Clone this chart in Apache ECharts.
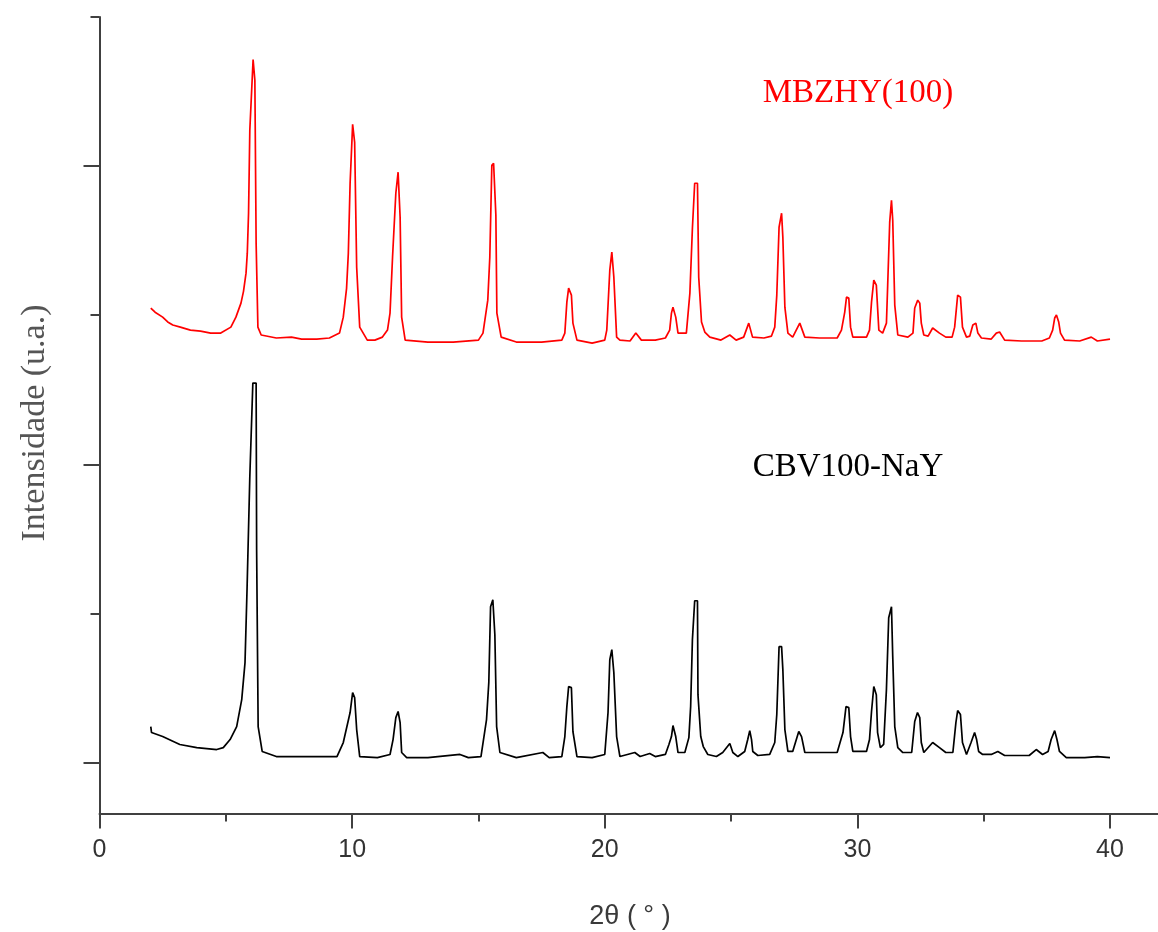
<!DOCTYPE html>
<html>
<head>
<meta charset="utf-8">
<script src="https://cdn.jsdelivr.net/npm/echarts@6/dist/echarts.min.js"></script>
<style>
  html, body { margin: 0; padding: 0; background: #ffffff; }
  #chart { width: 1158px; height: 932px; }
</style>
</head>
<body>
<div id="chart"></div>
<script>
// XRD patterns: 2θ (degrees) and intensity (arbitrary units, upper pattern shifted up)
const mbzhyTheta = [2.03,2.2,2.5,2.7,2.9,3.2,3.6,4.0,4.4,4.8,5.2,5.4,5.6,5.7,5.8,5.85,5.9,5.95,6.08,6.15,6.2,6.27,6.4,7.0,7.6,8.0,8.6,9.1,9.5,9.65,9.78,9.85,9.92,10.02,10.1,10.18,10.3,10.6,10.9,11.2,11.4,11.5,11.6,11.73,11.82,11.9,11.96,12.1,13.0,14.0,15.0,15.18,15.37,15.45,15.53,15.6,15.69,15.73,15.9,16.5,17.5,18.3,18.42,18.5,18.57,18.68,18.74,18.9,19.5,20.0,20.08,20.2,20.28,20.36,20.47,20.6,21.0,21.23,21.45,22.0,22.4,22.57,22.64,22.7,22.81,22.9,23.23,23.37,23.47,23.56,23.67,23.72,23.83,23.96,24.16,24.6,24.95,25.2,25.5,25.7,25.85,26.3,26.6,26.73,26.81,26.9,27.0,27.05,27.13,27.25,27.44,27.72,27.92,28.5,29.2,29.37,29.5,29.57,29.66,29.73,29.82,30.36,30.48,30.56,30.65,30.75,30.85,31.0,31.15,31.2,31.28,31.35,31.4,31.48,31.6,32.0,32.2,32.27,32.39,32.47,32.53,32.63,32.8,32.98,33.25,33.5,33.75,33.85,33.97,34.08,34.16,34.32,34.45,34.57,34.69,34.77,34.91,35.3,35.5,35.63,35.83,36.5,37.3,37.6,37.73,37.81,37.88,37.97,38.04,38.2,38.8,39.26,39.5,40.0];
const mbzhyCounts = [3048,3020,2987,2955,2934,2920,2900,2893,2880,2880,2920,2987,3081,3160,3282,3416,3684,4240,4715,4575,3483,2920,2867,2847,2853,2840,2840,2847,2880,2987,3180,3416,3885,4280,4159,3322,2920,2833,2833,2853,2900,3014,3389,3818,3959,3657,2987,2833,2820,2820,2833,2880,3101,3389,4005,4019,3671,3014,2853,2820,2820,2833,2880,3088,3182,3135,2947,2833,2813,2833,2900,3302,3423,3255,2853,2833,2827,2880,2833,2833,2847,2900,3014,3054,2987,2880,2880,3148,3583,3885,3885,3255,2954,2887,2853,2833,2867,2833,2853,2947,2853,2847,2860,2920,3135,3590,3684,3523,3054,2880,2853,2947,2853,2847,2847,2900,3021,3121,3115,2920,2853,2853,2900,3088,3235,3202,2900,2880,2947,3202,3624,3771,3637,3068,2867,2853,2880,3048,3101,3081,2947,2867,2860,2914,2880,2853,2853,2920,3135,3121,2920,2853,2860,2934,2947,2880,2847,2840,2880,2887,2833,2827,2827,2847,2900,2981,3001,2954,2880,2833,2827,2853,2827,2840];

const nayTheta = [2.03,2.06,2.5,3.18,3.85,4.64,4.9,5.17,5.43,5.63,5.76,5.84,5.95,6.07,6.2,6.22,6.28,6.44,7.0,8.0,9.4,9.65,9.92,10.02,10.1,10.18,10.3,11.0,11.5,11.62,11.73,11.82,11.9,11.96,12.16,13.0,14.27,14.6,15.1,15.32,15.41,15.48,15.57,15.65,15.72,15.85,16.5,17.55,17.8,18.3,18.42,18.5,18.57,18.68,18.74,18.9,19.5,20.0,20.13,20.2,20.28,20.36,20.47,20.6,21.19,21.4,21.78,22.0,22.4,22.54,22.64,22.7,22.81,22.9,23.17,23.33,23.4,23.47,23.56,23.67,23.69,23.8,23.9,24.08,24.42,24.67,24.95,25.07,25.27,25.54,25.66,25.74,25.81,25.86,26.06,26.53,26.73,26.81,26.9,27.0,27.05,27.13,27.25,27.44,27.68,27.79,27.92,28.5,29.2,29.43,29.55,29.66,29.73,29.82,30.36,30.48,30.56,30.65,30.75,30.8,30.91,31.04,31.15,31.24,31.35,31.4,31.48,31.6,31.8,32.15,32.27,32.38,32.47,32.53,32.63,32.98,33.25,33.5,33.78,33.9,33.97,34.08,34.16,34.32,34.5,34.64,34.72,34.8,34.96,35.3,35.56,35.83,36.8,37.08,37.33,37.55,37.67,37.81,37.9,38.0,38.27,39.0,39.5,40.0];
const nayCounts = [241,201,174,121,100,87,100,154,241,422,670,1159,1916,2545,2545,1427,241,74,40,40,40,134,335,469,435,221,40,33,54,154,301,342,268,67,33,33,54,33,40,288,536,1045,1092,857,241,67,33,67,33,40,174,375,509,502,208,40,33,54,335,690,757,603,174,40,67,40,60,40,54,121,174,248,174,67,67,167,375,824,1085,1085,455,174,107,54,40,67,127,67,40,74,154,214,154,74,47,54,134,322,777,777,623,221,74,74,208,174,67,67,67,201,375,368,174,74,74,154,342,509,455,201,100,121,489,971,1045,710,241,100,67,67,275,335,301,134,67,134,100,67,67,268,348,322,134,54,134,201,154,74,54,54,74,47,47,87,54,74,154,214,154,74,33,33,40,33];

const seriesNames = ['MBZHY(100)', 'CBV100-NaY'];
const seriesColors = ['#ff0000', '#000000'];
const xMajorTicks = [0, 10, 20, 30, 40];
const xMinorTicks = [5, 15, 25, 35];
const yMajorTicks = [0, 2000, 4000];
const yMinorTicks = [1000, 3000, 5000];
const xTitle = '2θ ( ° )';
const yTitle = 'Intensidade (u.a.)';

const pairs = (xs, ys) => xs.map((x, i) => [x, ys[i]]);

const axisColor = '#404040';
const X_MIN = 0, X_MAX = 41.9, Y_MIN = -342, Y_MAX = 5000;

const chart = echarts.init(document.getElementById('chart'), null, { renderer: 'canvas' });

const baseX = {
  type: 'value', min: X_MIN, max: X_MAX, position: 'bottom',
  splitLine: { show: false }
};
const baseY = {
  type: 'value', min: Y_MIN, max: Y_MAX, position: 'left',
  splitLine: { show: false }
};

chart.setOption({
  animation: false,
  backgroundColor: '#ffffff',
  grid: { left: 99.5, right: 0, top: 17, bottom: 118.5, containLabel: false },
  xAxis: [
    Object.assign({}, baseX, {
      axisLine: { show: true, onZero: false, lineStyle: { color: axisColor, width: 2 } },
      axisTick: { show: true, customValues: xMajorTicks, length: 15, lineStyle: { color: axisColor, width: 2 } },
      axisLabel: {
        show: true, customValues: xMajorTicks, margin: 24,
        fontFamily: 'Liberation Sans, Arial, sans-serif', fontSize: 25, color: '#333333'
      }
    }),
    Object.assign({}, baseX, {
      axisLine: { show: false, onZero: false },
      axisTick: { show: true, customValues: xMinorTicks, length: 8, lineStyle: { color: axisColor, width: 2 } },
      axisLabel: { show: false }
    })
  ],
  yAxis: [
    Object.assign({}, baseY, {
      axisLine: { show: true, onZero: false, lineStyle: { color: axisColor, width: 2 } },
      axisTick: { show: true, customValues: yMajorTicks, length: 16, lineStyle: { color: axisColor, width: 2 } },
      axisLabel: { show: false }
    }),
    Object.assign({}, baseY, {
      axisLine: { show: false, onZero: false },
      axisTick: { show: true, customValues: yMinorTicks, length: 9, lineStyle: { color: axisColor, width: 2 } },
      axisLabel: { show: false }
    })
  ],
  graphic: [
    {
      type: 'text', x: 35, y: 423, rotation: Math.PI / 2,
      style: {
        text: yTitle, align: 'center', verticalAlign: 'middle',
        font: '34px "Liberation Serif", "Times New Roman", serif', fill: '#555555'
      }
    },
    {
      type: 'text', x: 630, y: 917,
      style: {
        text: xTitle, align: 'center', verticalAlign: 'middle',
        font: '27px "Liberation Sans", Arial, sans-serif', fill: '#3a3a3a'
      }
    },
    {
      type: 'text', x: 858, y: 93,
      style: {
        text: seriesNames[0], align: 'center', verticalAlign: 'middle',
        font: '33px "Liberation Serif", "Times New Roman", serif', fill: seriesColors[0]
      }
    },
    {
      type: 'text', x: 848, y: 467,
      style: {
        text: seriesNames[1], align: 'center', verticalAlign: 'middle',
        font: '33px "Liberation Serif", "Times New Roman", serif', fill: seriesColors[1]
      }
    }
  ],
  series: [
    {
      name: seriesNames[0], type: 'line', xAxisIndex: 0, yAxisIndex: 0,
      data: pairs(mbzhyTheta, mbzhyCounts), showSymbol: false, symbol: 'none',
      lineStyle: { color: seriesColors[0], width: 1.7 }, z: 3
    },
    {
      name: seriesNames[1], type: 'line', xAxisIndex: 0, yAxisIndex: 0,
      data: pairs(nayTheta, nayCounts), showSymbol: false, symbol: 'none',
      lineStyle: { color: seriesColors[1], width: 1.7 }, z: 3
    }
  ]
});
</script>
</body>
</html>
